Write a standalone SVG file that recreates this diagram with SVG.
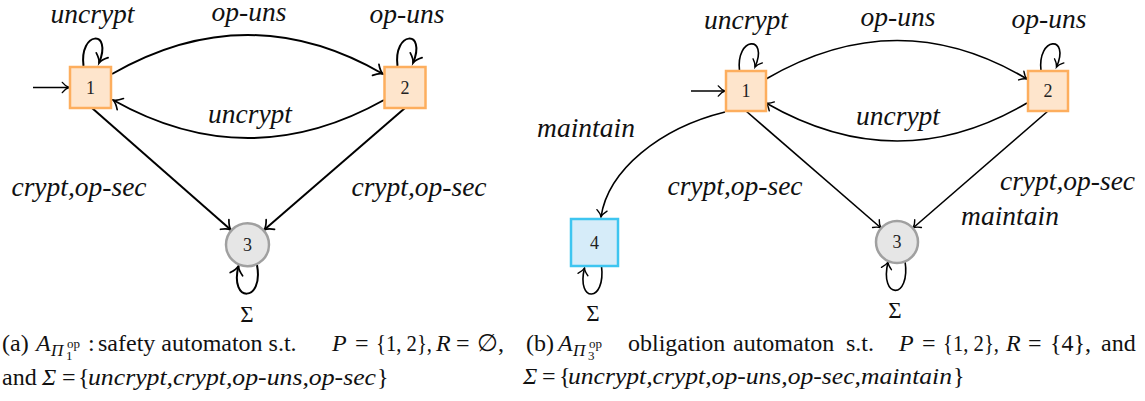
<svg xmlns="http://www.w3.org/2000/svg" width="1145" height="401" viewBox="0 0 1145 401">
<style>
.lbl{font-family:"Liberation Serif","Times New Roman",serif;font-style:italic;font-size:27.5px;fill:#111;text-anchor:middle}
.num{font-family:"Liberation Serif","Times New Roman",serif;font-size:18px;fill:#222;text-anchor:middle}
.sig{font-family:"Liberation Serif","Times New Roman",serif;font-size:23px;fill:#111;text-anchor:middle}
.cap{font-family:"Liberation Serif","Times New Roman",serif;font-size:24px;fill:#111}
.it{font-style:italic}
.sm{font-size:13px}
.sub{font-size:17px;font-style:italic}
.eL{fill:none;stroke:#000;stroke-width:2;marker-end:url(#arr)}
.eR{fill:none;stroke:#000;stroke-width:1.6;marker-end:url(#arr)}
.ini{fill:none;stroke:#000;stroke-width:1.6;marker-end:url(#arr)}
.acc{fill:#fee5cc;stroke:#fdae5e;stroke-width:2.5}
.sink{fill:#e6e6e6;stroke:#a0a0a0;stroke-width:2.5}
.rej{fill:#d6ecf9;stroke:#3ec5f0;stroke-width:2.5}
</style>
<defs>
<marker id="arr" viewBox="-6 -5 8 10" markerWidth="8" markerHeight="10" refX="0" refY="0" orient="auto" markerUnits="strokeWidth" style="overflow:visible">
<path d="M-4.2,-3.2 C-2.6,-1.3 -1.1,-0.3 0,0 C-1.1,0.3 -2.6,1.3 -4.2,3.2" fill="none" stroke="#000" stroke-width="0.85" stroke-linecap="round"/>
</marker>
</defs>

<g id="connectors">
<path class="ini" d="M33,87.5 L69,87.5"/>
<path class="eL" d="M83.5,66 C79,31 113,29 99,63"/>
<path class="eL" d="M397.5,66 C393,31 427,29 413,63"/>
<path class="eL" d="M112,74 Q248,-4 383,74"/>
<path class="eL" d="M384,100 Q248,176 113,100"/>
<path class="eL" d="M92,108 L231,230"/>
<path class="eL" d="M405,108 L264,230"/>
<path class="eL" d="M257,265 C264,303 229,303 238.5,266"/>
<path class="ini" d="M691,91 L725,91"/>
<path class="eR" d="M739.5,71 C735.5,36 769,35 755,67"/>
<path class="eR" d="M1041,71 C1037,36 1070.5,35 1056.5,67"/>
<path class="eR" d="M766,79 Q898,2 1027,79"/>
<path class="eR" d="M1027,103 Q898,179 766,103"/>
<path class="eR" d="M746,111 L881,228"/>
<path class="eR" d="M1048,111 L913,228"/>
<path class="eR" d="M725,112 C660,128 608,170 601,217"/>
<path class="eR" d="M601.5,266 C606,303 576,303 584.5,268"/>
<path class="eR" d="M905,261 C911,300 879,300 888,262"/>
</g>

<g id="edge-labels">
<text class="lbl" x="92.5" y="23">uncrypt</text>
<text class="lbl" x="249" y="21">op-uns</text>
<text class="lbl" x="407" y="23">op-uns</text>
<text class="lbl" x="250" y="123">uncrypt</text>
<text class="lbl" x="79" y="196">crypt,op-sec</text>
<text class="lbl" x="419" y="196">crypt,op-sec</text>
<text class="sig" x="247" y="322">Σ</text>
<text class="lbl" x="746" y="28.5">uncrypt</text>
<text class="lbl" x="898" y="25.5">op-uns</text>
<text class="lbl" x="1049" y="27.5">op-uns</text>
<text class="lbl" x="898" y="125">uncrypt</text>
<text class="lbl" x="586" y="136.5">maintain</text>
<text class="lbl" x="735" y="195">crypt,op-sec</text>
<text class="lbl" x="1067.5" y="190">crypt,op-sec</text>
<text class="lbl" x="1010" y="225">maintain</text>
<text class="sig" x="593" y="321">Σ</text>
<text class="sig" x="895" y="318">Σ</text>
</g>

<g id="a-node1"><rect class="acc" x="70" y="67" width="41" height="41"/><text class="num" x="90.5" y="93.5">1</text></g>
<g id="a-node2"><rect class="acc" x="384.5" y="67" width="41" height="41"/><text class="num" x="405" y="93.5">2</text></g>
<g id="a-node3"><circle class="sink" cx="247.5" cy="244.7" r="21.5"/><text class="num" x="247.5" y="250.7">3</text></g>
<g id="b-node1"><rect class="acc" x="726" y="71" width="40" height="40"/><text class="num" x="746" y="97">1</text></g>
<g id="b-node2"><rect class="acc" x="1028" y="71" width="40" height="40"/><text class="num" x="1048" y="97">2</text></g>
<g id="b-node3"><circle class="sink" cx="897" cy="242" r="21"/><text class="num" x="897" y="248">3</text></g>
<g id="b-node4"><rect class="rej" x="571" y="219" width="47" height="47"/><text class="num" x="594.5" y="248.5">4</text></g>

<g id="caption-a">
<text class="cap" x="2" y="351">(a)</text>
<text class="cap it" x="36" y="351">A</text>
<text class="cap sub" x="51" y="356">Π</text>
<text class="cap sm" x="67" y="348">op</text>
<text class="cap sm" x="66" y="360">1</text>
<text class="cap" x="88" y="351">:</text>
<text class="cap" x="98" y="351">safety automaton s.t.</text>
<text class="cap it" x="332" y="351">P</text>
<text class="cap" x="355" y="351">=</text>
<text class="cap" x="376" y="351" textLength="56" lengthAdjust="spacingAndGlyphs">{1, 2},</text>
<text class="cap it" x="436" y="351">R</text>
<text class="cap" x="456" y="351">=</text>
<text class="cap" x="477" y="351">∅,</text>
<text class="cap" x="2" y="385">and</text>
<text class="cap it" x="42" y="385">Σ</text>
<text class="cap" x="62" y="385">=</text>
<text class="cap" x="78" y="385">{</text>
<text class="cap it" x="88" y="385" textLength="288" lengthAdjust="spacingAndGlyphs">uncrypt,crypt,op-uns,op-sec</text>
<text class="cap" x="377" y="385">}</text>
</g>

<g id="caption-b">
<text class="cap" x="526" y="351">(b)</text>
<text class="cap it" x="558" y="351">A</text>
<text class="cap sub" x="573" y="356">Π</text>
<text class="cap sm" x="589" y="348">op</text>
<text class="cap sm" x="588" y="360">3</text>
<text class="cap" x="628" y="351">obligation</text>
<text class="cap" x="733" y="351">automaton</text>
<text class="cap" x="846" y="351">s.t.</text>
<text class="cap it" x="899" y="351">P</text>
<text class="cap" x="922" y="351">=</text>
<text class="cap" x="943" y="351" textLength="56" lengthAdjust="spacingAndGlyphs">{1, 2},</text>
<text class="cap it" x="1006" y="351">R</text>
<text class="cap" x="1028" y="351">=</text>
<text class="cap" x="1050" y="351">{4},</text>
<text class="cap" x="1101" y="351">and</text>
<text class="cap it" x="523" y="384">Σ</text>
<text class="cap" x="542" y="384">=</text>
<text class="cap" x="559" y="384">{</text>
<text class="cap it" x="568" y="384" textLength="384" lengthAdjust="spacingAndGlyphs">uncrypt,crypt,op-uns,op-sec,maintain</text>
<text class="cap" x="953" y="384">}</text>
</g>
</svg>
